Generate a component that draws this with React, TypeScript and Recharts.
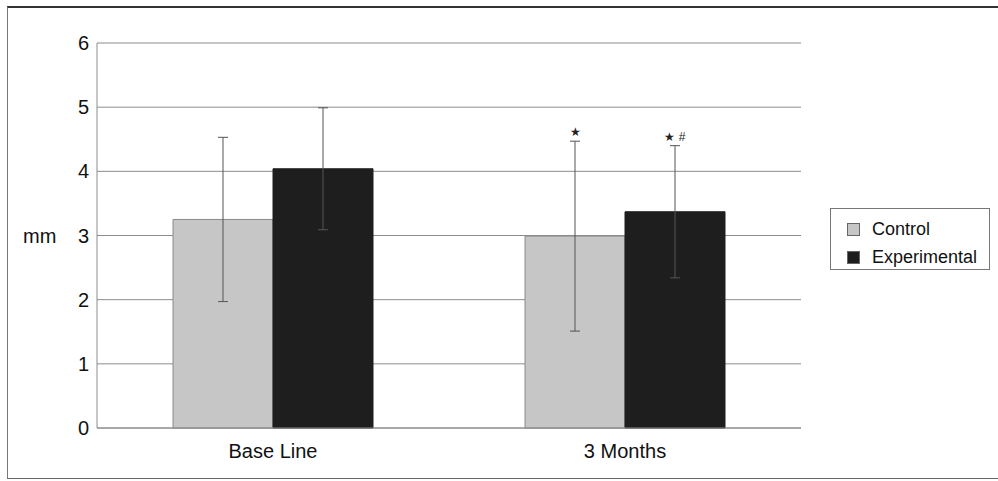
import React from "react";
import {
  BarChart,
  Bar,
  XAxis,
  YAxis,
  CartesianGrid,
  ErrorBar,
  Legend,
  LabelList,
} from "recharts";

const categories = ["Base Line", "3 Months"];
const control = [3.25, 2.99];
const controlSd = [1.28, 1.48];
const experimental = [4.04, 3.37];
const experimentalSd = [0.95, 1.03];
const controlNote = ["", "★"];
const experimentalNote = ["", "★ #"];
const yTicks = [0, 1, 2, 3, 4, 5, 6];

const data = categories.map((name, i) => ({
  name,
  control: control[i],
  controlSd: controlSd[i],
  controlNote: controlNote[i],
  experimental: experimental[i],
  experimentalSd: experimentalSd[i],
  experimentalNote: experimentalNote[i],
}));

const FONT = "'Liberation Sans', Arial, sans-serif";

// places the significance marks just above the error bar cap
function noteRenderer(values: number[], sds: number[]) {
  return (props: any) => {
    const { x, y, width, height, value, index } = props;
    if (!value || index == null) return null;
    const perUnit = Number(height) / values[index];
    const top = Number(y) - sds[index] * perUnit;
    return (
      <text
        x={Number(x) + Number(width) / 2}
        y={top - 5}
        textAnchor="middle"
        fontSize={12}
        fill="#222"
        fontFamily={FONT}
      >
        {value}
      </text>
    );
  };
}

function LegendBox(props: any) {
  const items = props.payload || [];
  return (
    <div
      style={{
        width: 160,
        height: 62,
        border: "1px solid #777",
        background: "#fff",
        fontFamily: FONT,
        fontSize: 18,
        color: "#111",
        boxSizing: "border-box",
        paddingTop: 6,
      }}
    >
      {items.map((item: any) => (
        <div
          key={item.value}
          style={{ display: "flex", alignItems: "center", height: 28, paddingLeft: 16 }}
        >
          <div
            style={{
              width: 13,
              height: 13,
              background: item.color,
              border: "1px solid #666",
              boxSizing: "border-box",
              marginRight: 12,
            }}
          />
          <span>{item.value === "control" ? "Control" : "Experimental"}</span>
        </div>
      ))}
    </div>
  );
}

export default function App() {
  return (
    <div
      style={{
        position: "absolute",
        left: 0,
        top: 0,
        width: 998,
        height: 481,
        background: "#fff",
      }}
    >
      <div
        style={{
          position: "absolute",
          left: 7,
          top: 6,
          width: 991,
          height: 473,
          borderTop: "2px solid #333",
          borderLeft: "1px solid #777",
          borderBottom: "1px solid #666",
          boxSizing: "border-box",
        }}
      />
      <BarChart
        width={998}
        height={481}
        data={data}
        margin={{ top: 43, right: 197, left: 0, bottom: 0 }}
        barGap={0}
        style={{ position: "absolute", left: 0, top: 0 }}
      >
        <CartesianGrid vertical={false} stroke="#8c8c8c" />
        <XAxis
          dataKey="name"
          height={53}
          tickLine={false}
          axisLine={{ stroke: "#8c8c8c" }}
          tickMargin={10}
          tick={{ fill: "#111", fontSize: 20, fontFamily: FONT }}
        />
        <YAxis
          width={97}
          domain={[0, 6]}
          ticks={yTicks}
          tickLine={false}
          axisLine={{ stroke: "#8c8c8c" }}
          tick={{ fill: "#111", fontSize: 20, fontFamily: FONT }}
          label={{
            value: "mm",
            position: "insideLeft",
            offset: 23,
            fill: "#111",
            fontSize: 20,
            fontFamily: FONT,
          }}
        />
        <YAxis
          yAxisId="frame"
          orientation="right"
          width={0}
          tick={false}
          tickLine={false}
          axisLine={{ stroke: "#8c8c8c" }}
        />
        <Legend
          layout="vertical"
          align="center"
          verticalAlign="middle"
          content={<LegendBox />}
          wrapperStyle={{ left: 830, top: 208, width: 160 }}
        />
        <Bar
          dataKey="control"
          fill="#c6c6c6"
          stroke="#8a8a8a"
          strokeWidth={1}
          barSize={100}
          isAnimationActive={false}
        >
          <ErrorBar
            dataKey="controlSd"
            width={5}
            stroke="#555"
            strokeWidth={1}
            direction="y"
            isAnimationActive={false}
          />
          <LabelList dataKey="controlNote" content={noteRenderer(control, controlSd)} />
        </Bar>
        <Bar
          dataKey="experimental"
          fill="#1e1e1e"
          stroke="#1e1e1e"
          strokeWidth={1}
          barSize={100}
          isAnimationActive={false}
        >
          <ErrorBar
            dataKey="experimentalSd"
            width={5}
            stroke="#555"
            strokeWidth={1}
            direction="y"
            isAnimationActive={false}
          />
          <LabelList
            dataKey="experimentalNote"
            content={noteRenderer(experimental, experimentalSd)}
          />
        </Bar>
      </BarChart>
    </div>
  );
}
